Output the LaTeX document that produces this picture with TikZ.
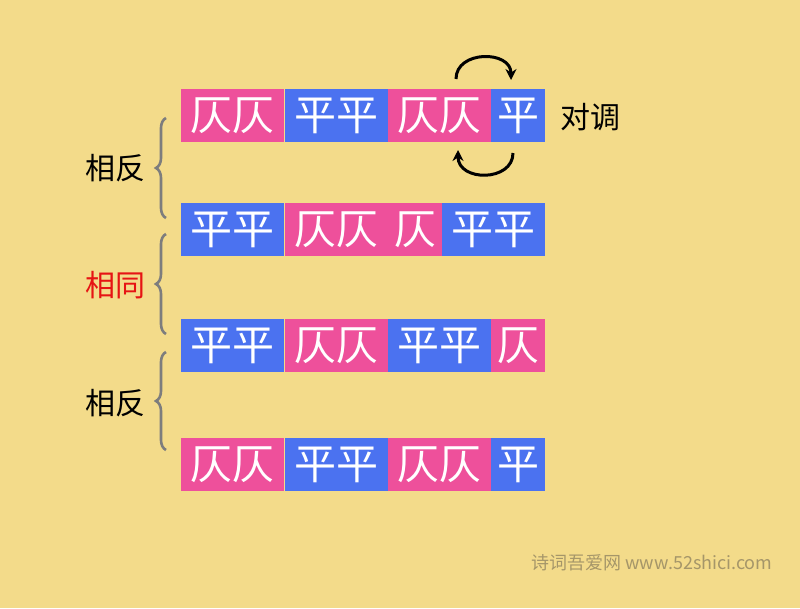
\documentclass[tikz,border=0pt]{standalone}
\usepackage{fontspec}
\setmainfont{Noto Sans CJK SC}
\usetikzlibrary{positioning,arrows.meta,decorations.pathreplacing}
\definecolor{bgyellow}{RGB}{243,219,138}
\definecolor{zepink}{RGB}{238,80,155}
\definecolor{pingblue}{RGB}{75,114,240}
\definecolor{bracegray}{RGB}{125,125,125}
\definecolor{markgray}{RGB}{165,150,105}
\definecolor{samered}{RGB}{230,20,20}

\begin{document}
\begin{tikzpicture}[x=1pt,y=-1pt,
    zebox/.style ={fill=zepink, text=white, inner sep=0pt, minimum height=53pt,
                   font=\fontsize{42}{42}\selectfont},
    pingbox/.style ={zebox, fill=pingblue},
    wide/.style ={minimum width=103pt},
    narrow/.style ={minimum width=54pt},
    biaoqian/.style ={font=\fontsize{30}{30}\selectfont},
    kuohao/.style ={decorate, decoration={brace, amplitude=10pt}, draw=bracegray, line width=2.6pt},
    swap/.style ={line width=3pt, -{Stealth[length=11pt,width=11pt]}}]
   \fill[bgyellow] (0,0) rectangle (800,608);
   % row 1
   \node[zebox, wide, anchor=west] (r1a) at (181,115.5) {仄仄};
   \node[pingbox, wide, right=0pt of r1a] (r1b) {平平};
   \node[zebox, wide, right=0pt of r1b] (r1c) {仄仄};
   \node[pingbox, narrow, right=0pt of r1c] (r1d) {平};
   % row 2
   \node[pingbox, wide, anchor=west] (r2a) at (181,229.5) {平平};
   \node[zebox, wide, right=0pt of r2a] (r2b) {仄仄};
   \node[zebox, narrow, right=0pt of r2b] (r2c) {仄};
   \node[pingbox, wide, right=0pt of r2c] (r2d) {平平};
   % row 3
   \node[pingbox, wide, anchor=west] (r3a) at (181,345.5) {平平};
   \node[zebox, wide, right=0pt of r3a] (r3b) {仄仄};
   \node[pingbox, wide, right=0pt of r3b] (r3c) {平平};
   \node[zebox, narrow, right=0pt of r3c] (r3d) {仄};
   % row 4
   \node[zebox, wide, anchor=west] (r4a) at (181,464.5) {仄仄};
   \node[pingbox, wide, right=0pt of r4a] (r4b) {平平};
   \node[zebox, wide, right=0pt of r4b] (r4c) {仄仄};
   \node[pingbox, narrow, right=0pt of r4c] (r4d) {平};
   % braces and labels
   \draw[kuohao] (166,218) -- (166,118);
   \draw[kuohao] (166,334) -- (166,234);
   \draw[kuohao] (166,450) -- (166,352);
   \node[biaoqian] (fan1) at (115,168) {相反};
   \node[biaoqian, text=samered] (tong) at (115,285) {相同};
   \node[biaoqian] (fan2) at (115,403) {相反};
   \node[biaoqian, anchor=west] (duidiao) at (557,117) {对调};
   % swap arrows
   \coordinate (up1) at (456,79);
   \coordinate (up2) at (511,80);
   \coordinate (dn1) at (513,153);
   \coordinate (dn2) at (458,150);
   \draw[swap] (up1) .. controls (456,50) and (511,50) .. (up2);
   \draw[swap] (dn1) .. controls (513,182) and (458,182) .. (dn2);
   % watermark
   \node[text=markgray, font=\fontsize{18}{18}\selectfont] (mark) at (652,563) {诗词吾爱网 www.52shici.com};
\end{tikzpicture}
\end{document}
